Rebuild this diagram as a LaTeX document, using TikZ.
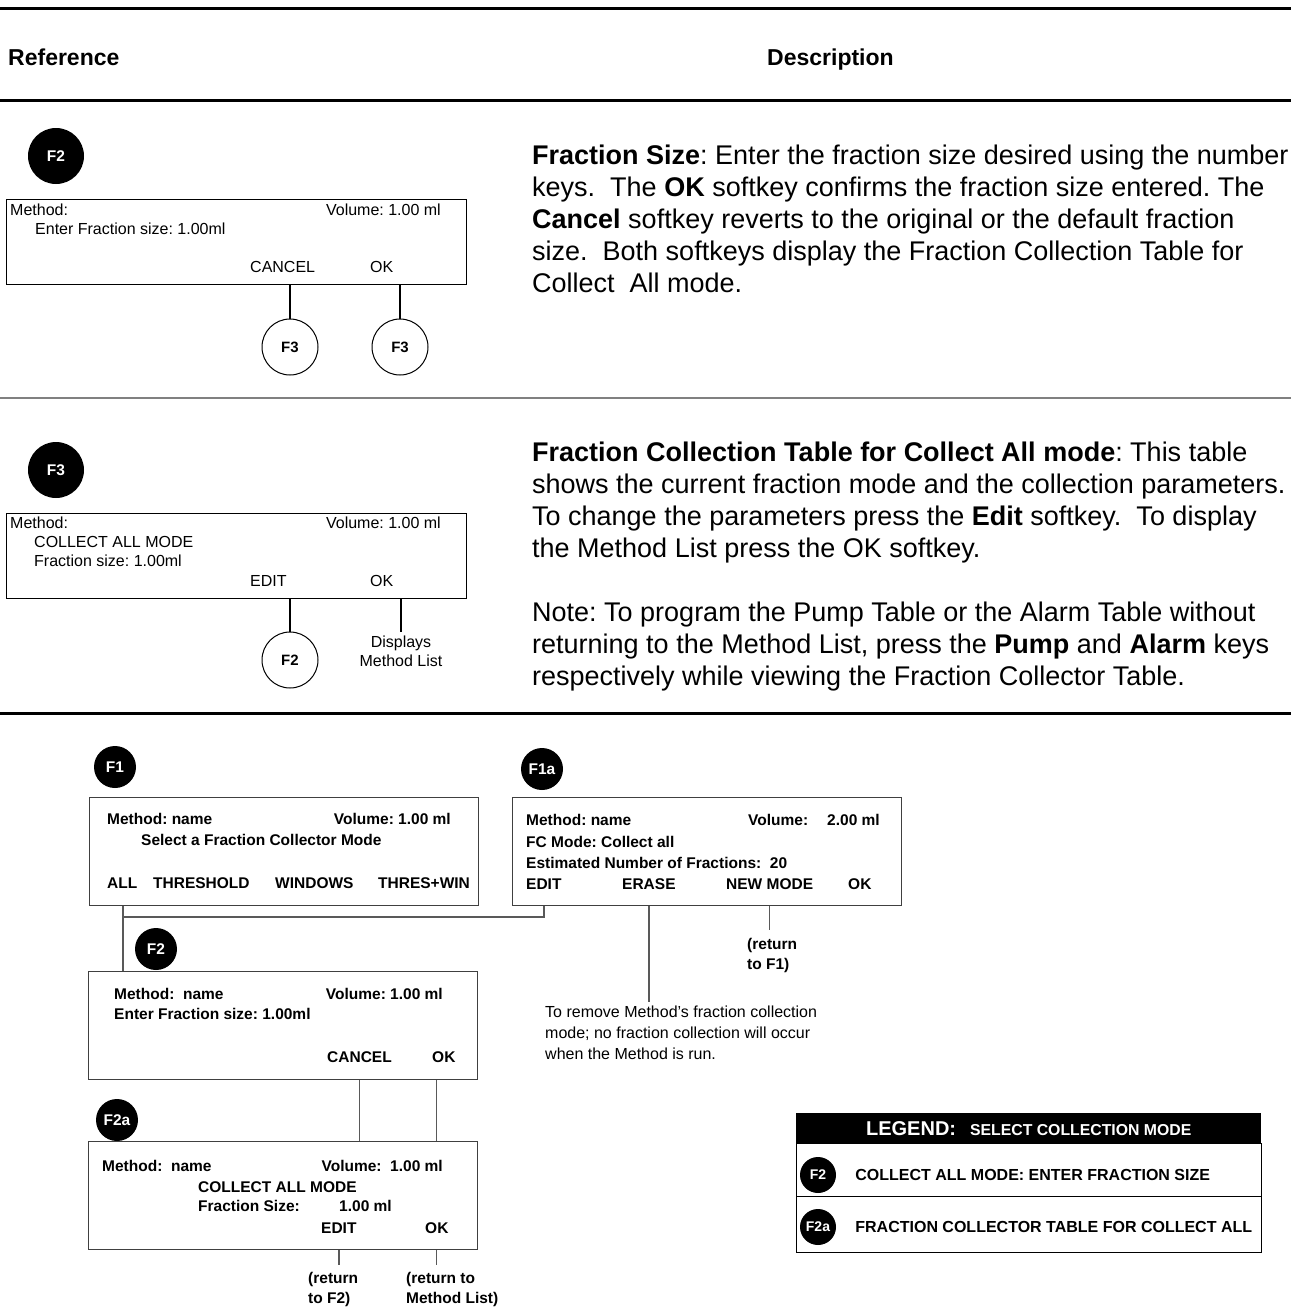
\documentclass[tikz,border=0pt]{standalone}
\usepackage{fontspec}
\setmainfont{Liberation Sans}
\usepackage{tikz}
\usetikzlibrary{positioning}

\newcommand{\fsz}[2]{\fontsize{#1}{#2}\selectfont}
\frenchspacing

\begin{document}
\begin{tikzpicture}[x=1pt, y=-1pt,
    tag/.style={circle, fill=black, text=white, inner sep=0, minimum size=56, font=\bfseries\fsz{15.5}{17}},
    smalltag/.style={tag, minimum size=42, font=\bfseries\fsz{15.5}{17}},
    goto/.style={circle, draw, line width=1, inner sep=0, minimum size=56, font=\bfseries\fsz{15}{17}},
    lcd/.style={draw, line width=1.2, rectangle, inner sep=0, anchor=north west},
    lcdtxt/.style={inner sep=0, anchor=base west, font=\fsz{16}{19}},
    panel/.style={lcd, draw=black!75, line width=1.3, minimum width=389, minimum height=108},
    paneltxt/.style={inner sep=0, anchor=base west, font=\bfseries\fsz{15.5}{20}},
    key/.style={line width=2},
    link/.style={draw=black!65, line width=1.3},
    desc/.style={inner sep=0, anchor=north west, align=left, font=\fsz{27}{32}},
    rule/.style={line width=3}]
    \useasboundingbox (0,0) rectangle (1291,1310);

    % column heads
    \draw[rule] (0,8) -- (1291,8);
    \node[inner sep=0, anchor=base west, font=\bfseries\fsz{23}{26}] (hRef) at (8,65) {Reference};
    \node[inner sep=0, anchor=base west, font=\bfseries\fsz{23}{26}] (hDesc) at (767,65) {Description};
    \draw[rule] (0,100) -- (1291,100);

    % F2: fraction size
    \node[tag] (selA) at (56,156) {F2};
    \node[lcd, minimum width=460, minimum height=85] (lcdA) at (6,199) {};
    \node[lcdtxt] at (10,215) {Method:};
    \node[lcdtxt, anchor=base east] at (441,215) {Volume: 1.00 ml};
    \node[lcdtxt] at (35,234) {Enter Fraction size: 1.00ml};
    \node[lcdtxt] (cancelA) at (250,272) {CANCEL};
    \node[lcdtxt] (okA) at (370,272) {OK};
    \node[goto] (toA1) at (290,347) {F3};
    \node[goto] (toA2) at (400,347) {F3};
    \draw[key] (lcdA.south -| toA1) -- (toA1);
    \draw[key] (lcdA.south -| toA2) -- (toA2);

    \node[desc] (descA) at (532,145) {\textbf{Fraction Size}: Enter the fraction size desired using the number\\
        keys.\ \ The \textbf{OK} softkey confirms the fraction size entered. The\\
        \textbf{Cancel} softkey reverts to the original or the default fraction\\
        size.\ \ Both softkeys display the Fraction Collection Table for\\
        Collect\ \ All mode.};

    \draw[black!50, line width=2] (0,398) -- (1291,398);

    % F3: collect all table
    \node[tag] (selB) at (56,470) {F3};
    \node[lcd, minimum width=460, minimum height=85] (lcdB) at (6,513) {};
    \node[lcdtxt] at (10,528) {Method:};
    \node[lcdtxt, anchor=base east] at (441,528) {Volume: 1.00 ml};
    \node[lcdtxt] at (34,547) {COLLECT ALL MODE};
    \node[lcdtxt] at (34,566) {Fraction size: 1.00ml};
    \node[lcdtxt] (editB) at (250,586) {EDIT};
    \node[lcdtxt] (okB) at (370,586) {OK};
    \node[goto] (toB) at (290,660) {F2};
    \node[inner sep=0, anchor=north, align=center, font=\fsz{16}{19}] (dispB) at (401,636) {Displays\\Method List};
    \draw[key] (lcdB.south -| toB) -- (toB);
    \draw[key, shorten >=4] (lcdB.south -| dispB) -- (dispB.north);

    \node[desc] (descB) at (532,442) {\textbf{Fraction Collection Table for Collect All mode}: This table\\
        shows the current fraction mode and the collection parameters.\\
        To change the parameters press the \textbf{Edit} softkey.\ \ To display\\
        the Method List press the OK softkey.\\[32pt]
        Note: To program the Pump Table or the Alarm Table without\\
        returning to the Method List, press the \textbf{Pump} and \textbf{Alarm} keys\\
        respectively while viewing the Fraction Collector Table.};

    \draw[rule] (0,713) -- (1291,713);

    % F1: select mode
    \node[smalltag] (selF1) at (115,767) {F1};
    \node[panel] (pF1) at (89,797) {};
    \node[paneltxt] at (107,824) {Method: name};
    \node[paneltxt, anchor=base east] at (451,824) {Volume: 1.00 ml};
    \node[paneltxt] at (141,845) {Select a Fraction Collector Mode};
    \node[paneltxt] (kAll) at (107,888) {ALL};
    \node[paneltxt] at (153,888) {THRESHOLD};
    \node[paneltxt] at (275,888) {WINDOWS};
    \node[paneltxt] at (378,888) {THRES+WIN};

    % F1a: method with collect all
    \node[smalltag] (selF1a) at (542,769) {F1a};
    \node[panel] (pF1a) at (512,797) {};
    \node[paneltxt] at (526,825) {Method: name};
    \node[paneltxt] at (748,825) {Volume:};
    \node[paneltxt, anchor=base east] at (880,825) {2.00 ml};
    \node[paneltxt] at (526,847) {FC Mode: Collect all};
    \node[paneltxt] at (526,868) {Estimated Number of Fractions:\ \ 20};
    \node[paneltxt] (kEdit) at (526,889) {EDIT};
    \node[paneltxt] (kErase) at (622,889) {ERASE};
    \node[paneltxt] (kNew) at (726,889) {NEW MODE};
    \node[paneltxt] at (848,889) {OK};

    \node[inner sep=0, anchor=north west, align=left, font=\fsz{16}{21}] (eraseNote) at (545,1006)
        {To remove Method's fraction collection\\mode; no fraction collection will occur\\when the Method is run.};
    \node[inner sep=0, anchor=north west, align=left, font=\bfseries\fsz{15.5}{20}] (retF1) at (747,938) {(return\\to F1)};
    \draw[link, shorten >=4] (pF1a.south -| kErase) -- (kErase |- eraseNote.north);
    \draw[link, shorten >=8] (pF1a.south -| kNew) -- (kNew |- retF1.north);

    % F2: enter fraction size
    \node[smalltag] (selF2) at (156,949) {F2};
    \node[panel] (pF2) at (88,971) {};
    \node[paneltxt] at (114,999) {Method:\ \ name};
    \node[paneltxt, anchor=base east] at (443,999) {Volume: 1.00 ml};
    \node[paneltxt] at (114,1019) {Enter Fraction size: 1.00ml};
    \node[paneltxt] (kCancel) at (327,1062) {CANCEL};
    \node[paneltxt] (kOk) at (432,1062) {OK};

    \coordinate (fork) at (123,917);
    \draw[link] (pF1.south -| fork) -- (pF2.north -| fork);
    \draw[link] (fork) -| (kEdit |- pF1a.south);

    % F2a: collection table
    \node[smalltag] (selF2a) at (117,1120) {F2a};
    \node[panel] (pF2a) at (88,1141) {};
    \node[paneltxt] at (102,1171) {Method:\ \ name};
    \node[paneltxt, anchor=base east] at (443,1171) {Volume:\ \ 1.00 ml};
    \node[paneltxt] at (198,1192) {COLLECT ALL MODE};
    \node[paneltxt] at (198,1211) {Fraction Size:};
    \node[paneltxt, anchor=base east] at (392,1211) {1.00 ml};
    \node[paneltxt] (kEditB) at (321,1233) {EDIT};
    \node[paneltxt] (kOkB) at (425,1233) {OK};

    \draw[link] (pF2.south -| kCancel) -- (pF2a.north -| kCancel);
    \draw[link] (pF2.south -| kOkB) -- (pF2a.north -| kOkB);

    \node[inner sep=0, anchor=north west, align=left, font=\bfseries\fsz{15.5}{20}] (retF2) at (308,1272) {(return\\to F2)};
    \node[inner sep=0, anchor=north west, align=left, font=\bfseries\fsz{15.5}{20}] (retList) at (406,1272) {(return to\\Method List)};
    \draw[link, shorten >=7] (pF2a.south -| kEditB) -- (kEditB |- retF2.north);
    \draw[link, shorten >=7] (pF2a.south -| kOkB) -- (kOkB |- retList.north);

    % legend
    \node[fill=black, text=white, inner sep=0, anchor=north west, minimum width=465, minimum height=30, font=\bfseries]
        (legHead) at (796,1113) {{\fsz{20}{22}LEGEND:}\hspace{14pt}{\fsz{15.8}{18}SELECT COLLECTION MODE}};
    \node[draw, line width=1.2, inner sep=0, anchor=north west, minimum width=465, minimum height=53] (legA) at (796,1143) {};
    \node[draw, line width=1.2, inner sep=0, anchor=north west, minimum width=465, minimum height=56] (legB) at (796,1196) {};
    \node[tag, minimum size=36, font=\bfseries\fsz{14}{15}] (legTagA) at (818,1175) {F2};
    \node[tag, minimum size=36, font=\bfseries\fsz{14}{15}] (legTagB) at (818,1227) {F2a};
    \node[inner sep=0, anchor=west, font=\bfseries\fsz{16}{18}, right=19pt of legTagA] (legTxtA) {COLLECT ALL MODE: ENTER FRACTION SIZE};
    \node[inner sep=0, anchor=west, font=\bfseries\fsz{16}{18}, right=19pt of legTagB] (legTxtB) {FRACTION COLLECTOR TABLE FOR COLLECT ALL};
\end{tikzpicture}
\end{document}
